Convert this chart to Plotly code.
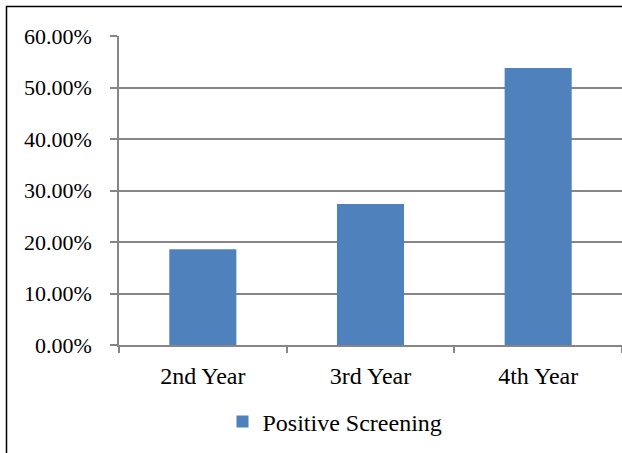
import plotly.graph_objects as go

categories = ["2nd Year", "3rd Year", "4th Year"]
positive_screening = [0.186, 0.274, 0.538]
series_name = "Positive Screening"

W, H = 622, 453
ML, MR, MT, MB = 119, 0, 36, 108
plot_w = W - ML - MR
plot_h = H - MT - MB

axis_gray = "#868686"
bar_blue = "#4F81BD"
serif = "Liberation Serif"
y_font = dict(family=serif, size=22, color="black")
x_font = dict(family=serif, size=24, color="black")
legend_font = dict(family=serif, size=24, color="black")

fig = go.Figure()
fig.add_trace(go.Bar(
    x=categories,
    y=positive_screening,
    name=series_name,
    marker=dict(color=bar_blue, line=dict(width=0)),
    showlegend=True,
))


def px_to_paper_x(px):
    return (px - ML) / plot_w


def px_to_paper_y(py):
    return (H - MB - py) / plot_h


# outer frame around the chart (left and top edges visible)
fig.add_shape(
    type="rect", xref="paper", yref="paper",
    x0=px_to_paper_x(6.5), x1=px_to_paper_x(W + 20),
    y0=px_to_paper_y(H + 20), y1=px_to_paper_y(6.5),
    line=dict(color="black", width=1.5), fillcolor="rgba(0,0,0,0)", layer="above",
)

fig.update_layout(
    width=W, height=H,
    margin=dict(l=ML, r=MR, t=MT, b=MB, pad=0),
    paper_bgcolor="white", plot_bgcolor="white",
    font=dict(family=serif, color="black"),
    bargap=0.6,
    showlegend=True,
    legend=dict(
        orientation="h", x=px_to_paper_x(335), y=px_to_paper_y(422),
        xanchor="center", yanchor="middle",
        font=legend_font, bgcolor="rgba(0,0,0,0)", itemwidth=30,
    ),
    xaxis=dict(
        type="category", showline=True, linecolor=axis_gray, linewidth=1.5,
        ticks="outside", tickson="boundaries", ticklen=6, tickcolor=axis_gray, tickwidth=1.5,
        showgrid=False, ticklabelstandoff=8,
        tickfont=x_font,
    ),
    yaxis=dict(
        range=[0, 0.6], tickvals=[0, 0.1, 0.2, 0.3, 0.4, 0.5, 0.6], tickformat=".2%",
        showline=True, linecolor=axis_gray, linewidth=1.5,
        ticks="outside", ticklen=7, tickcolor=axis_gray, tickwidth=1.5,
        showgrid=True, gridcolor=axis_gray, gridwidth=1.5, zeroline=False,
        ticklabelstandoff=14, tickfont=y_font,
    ),
)

fig.write_html("out.html")
